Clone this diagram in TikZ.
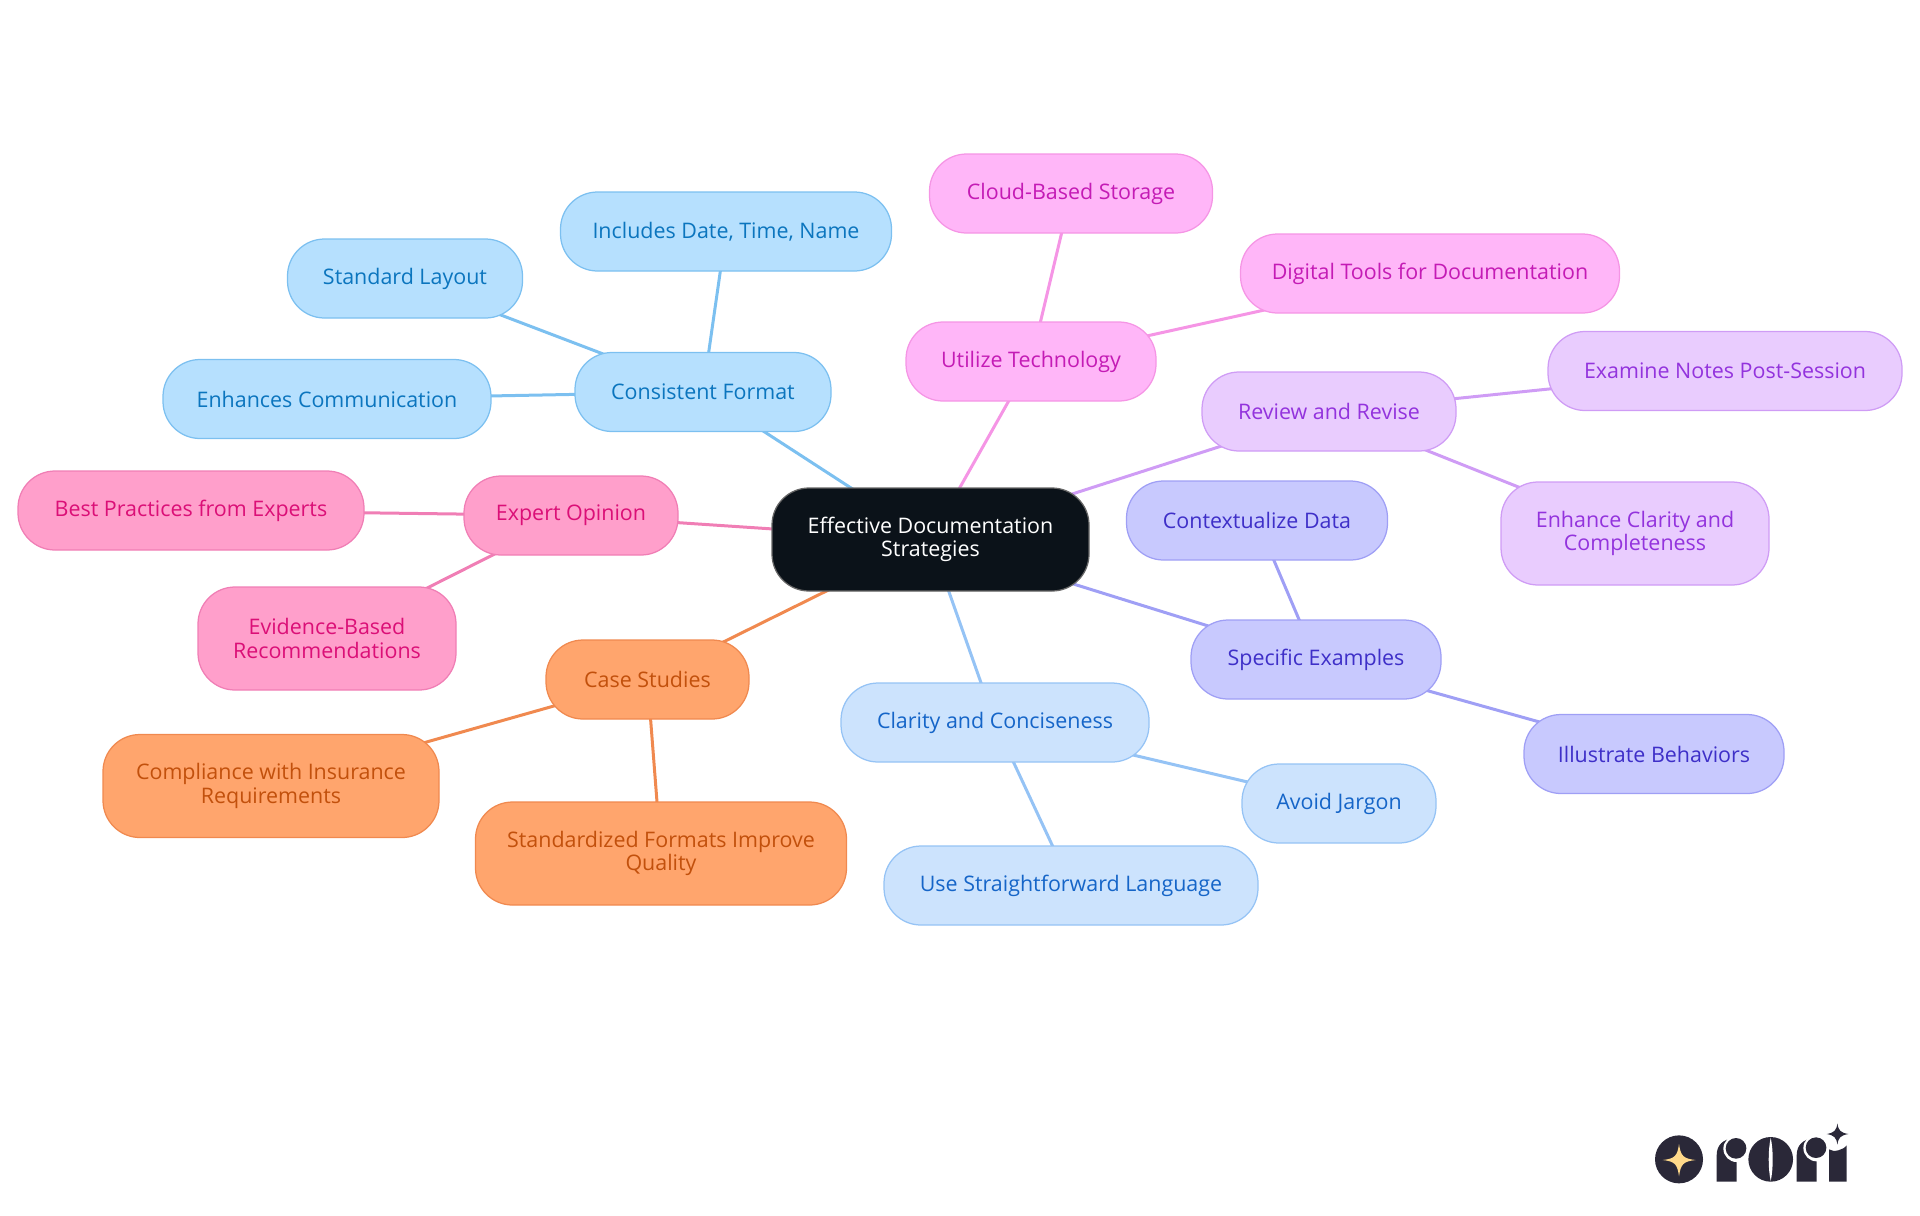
\documentclass[tikz,border=0pt]{standalone}
\usepackage{fontspec}
\setmainfont{Open Sans}
\usetikzlibrary{backgrounds}

\definecolor{skyfill}{HTML}{B6E0FE}
\definecolor{skyline}{HTML}{7CC0F0}
\definecolor{skytext}{HTML}{0B75BE}
\definecolor{rosefill}{HTML}{FF9FCB}
\definecolor{roseline}{HTML}{F07EB5}
\definecolor{rosetext}{HTML}{DB0F77}
\definecolor{tanfill}{HTML}{FFA56D}
\definecolor{tanline}{HTML}{F0894F}
\definecolor{tantext}{HTML}{C2500C}
\definecolor{bluefill}{HTML}{CCE3FD}
\definecolor{blueline}{HTML}{95C3F5}
\definecolor{bluetext}{HTML}{1565C8}
\definecolor{indigofill}{HTML}{C8C9FE}
\definecolor{indigoline}{HTML}{9F9FF5}
\definecolor{indigotext}{HTML}{3E2FC8}
\definecolor{violetfill}{HTML}{E9CCFE}
\definecolor{violetline}{HTML}{CF9CF5}
\definecolor{violettext}{HTML}{9333DD}
\definecolor{magentafill}{HTML}{FFB6F8}
\definecolor{magentaline}{HTML}{F595E5}
\definecolor{magentatext}{HTML}{C41BB5}
\definecolor{rootfill}{HTML}{0B1219}
\definecolor{logodark}{HTML}{2A2838}
\definecolor{logostar}{HTML}{FFD98A}

\tikzset{
	mind/.style={rectangle,rounded corners=0.74cm,line width=0.025cm,inner sep=0pt,align=center,
		minimum height=1.58cm,font=\fontsize{12.2}{13.3}\selectfont},
	tall/.style={minimum height=2.06cm},
	skybox/.style={mind,fill=skyfill,draw=skyline,text=skytext},
	rosebox/.style={mind,fill=rosefill,draw=roseline,text=rosetext},
	tanbox/.style={mind,fill=tanfill,draw=tanline,text=tantext},
	bluebox/.style={mind,fill=bluefill,draw=blueline,text=bluetext},
	indigobox/.style={mind,fill=indigofill,draw=indigoline,text=indigotext},
	violetbox/.style={mind,fill=violetfill,draw=violetline,text=violettext},
	magentabox/.style={mind,fill=magentafill,draw=magentaline,text=magentatext},
	rootbox/.style={mind,tall,fill=rootfill,draw=black!60,text=white},
	link/.style={line width=0.06cm}
}

\begin{document}
\begin{tikzpicture}
		\useasboundingbox (0,0) rectangle (38.4,-24.3);

		\draw (18.61,-10.79) node [rootbox,minimum width=6.34cm] (root){Effective Documentation\\Strategies};

		\draw (14.06,-7.84) node [skybox,minimum width=5.12cm] (consistent){Consistent Format};
		\draw (14.52,-4.63) node [skybox,minimum width=6.62cm] (dateinfo){Includes Date, Time, Name};
		\draw (8.10,-5.57) node [skybox,minimum width=4.70cm] (layout){Standard Layout};
		\draw (6.54,-7.98) node [skybox,minimum width=6.56cm] (communication){Enhances Communication};

		\draw (11.42,-10.31) node [rosebox,minimum width=4.28cm] (expert){Expert Opinion};
		\draw (3.82,-10.21) node [rosebox,minimum width=6.92cm] (practices){Best Practices from Experts};
		\draw (6.54,-12.77) node [rosebox,tall,minimum width=5.16cm] (evidence){Evidence-Based\\Recommendations};

		\draw (12.95,-13.59) node [tanbox,minimum width=4.06cm] (cases){Case Studies};
		\draw (5.42,-15.72) node [tanbox,tall,minimum width=6.72cm] (compliance){Compliance with Insurance\\Requirements};
		\draw (13.22,-17.07) node [tanbox,tall,minimum width=7.42cm] (standardized){Standardized Formats Improve\\Quality};

		\draw (19.90,-14.45) node [bluebox,minimum width=6.16cm] (clarity){Clarity and Conciseness};
		\draw (26.78,-16.07) node [bluebox,minimum width=3.88cm] (jargon){Avoid Jargon};
		\draw (21.42,-17.71) node [bluebox,minimum width=7.48cm] (language){Use Straightforward Language};

		\draw (26.32,-13.19) node [indigobox,minimum width=5.00cm] (examples){Specific Examples};
		\draw (25.14,-10.41) node [indigobox,minimum width=5.22cm] (context){Contextualize Data};
		\draw (33.08,-15.08) node [indigobox,minimum width=5.20cm] (behaviors){Illustrate Behaviors};

		\draw (26.58,-8.23) node [violetbox,minimum width=5.08cm] (review){Review and Revise};
		\draw (34.50,-7.42) node [violetbox,minimum width=7.08cm] (examine){Examine Notes Post-Session};
		\draw (32.70,-10.67) node [violetbox,tall,minimum width=5.36cm] (completeness){Enhance Clarity and\\Completeness};

		\draw (20.62,-7.23) node [magentabox,minimum width=5.00cm] (technology){Utilize Technology};
		\draw (21.42,-3.87) node [magentabox,minimum width=5.66cm] (storage){Cloud-Based Storage};
		\draw (28.60,-5.47) node [magentabox,minimum width=7.58cm] (tools){Digital Tools for Documentation};

		\begin{scope}[on background layer]
			\draw[link,skyline]
			(root.center) edge (consistent.center)
			(consistent.center) edge (dateinfo.center)
				 edge (layout.center)
				 edge (communication.center);
			\draw[link,roseline]
			(root.center) edge (expert.center)
			(expert.center) edge (practices.center)
				 edge (evidence.center);
			\draw[link,tanline]
			(root.center) edge (cases.center)
			(cases.center) edge (compliance.center)
				 edge (standardized.center);
			\draw[link,blueline]
			(root.center) edge (clarity.center)
			(clarity.center) edge (jargon.center)
				 edge (language.center);
			\draw[link,indigoline]
			(root.center) edge (examples.center)
			(examples.center) edge (context.center)
				 edge (behaviors.center);
			\draw[link,violetline]
			(root.center) edge (review.center)
			(review.center) edge (examine.center)
				 edge (completeness.center);
			\draw[link,magentaline]
			(root.center) edge (technology.center)
			(technology.center) edge (storage.center)
				 edge (tools.center);
		\end{scope}

		% logo
		\begin{scope}[shift={(32.6,-22)},x=0.00667cm,y=-0.00667cm]
			\fill[logodark] (147,178) circle (72);
			\fill[logostar] (147,132) .. controls (152,168) and (160,176) .. (197,180)
				.. controls (160,184) and (152,192) .. (147,229)
				.. controls (142,192) and (134,184) .. (98,180)
				.. controls (134,176) and (142,168) .. (147,132) -- cycle;

			\fill[logodark] (260,245) -- (260,165) .. controls (260,135) and (280,117) .. (310,115)
				-- (320,115) -- (320,245) -- cycle;
			\fill[white] (320,146) circle (40);
			\fill[logodark] (318,145) circle (31);

			\fill[logodark] (422,178) circle (67);
			\fill[white] (422,113) .. controls (414,150) and (414,206) .. (422,243)
				.. controls (430,206) and (430,150) .. (422,113) -- cycle;

			\fill[logodark] (500,245) -- (500,165) .. controls (500,135) and (520,117) .. (550,115)
				-- (560,115) -- (560,245) -- cycle;
			\fill[white] (560,144) circle (40);
			\fill[logodark] (558,143) circle (31);

			\fill[logodark] (597,245) -- (597,148) .. controls (610,158) and (640,150) .. (650,136) -- (650,245) -- cycle;
			\fill[logodark] (622,70) .. controls (625,92) and (632,98) .. (655,102)
				.. controls (632,106) and (625,112) .. (622,134)
				.. controls (619,112) and (612,106) .. (590,102)
				.. controls (612,98) and (619,92) .. (622,70) -- cycle;
		\end{scope}
	\end{tikzpicture}
\end{document}
